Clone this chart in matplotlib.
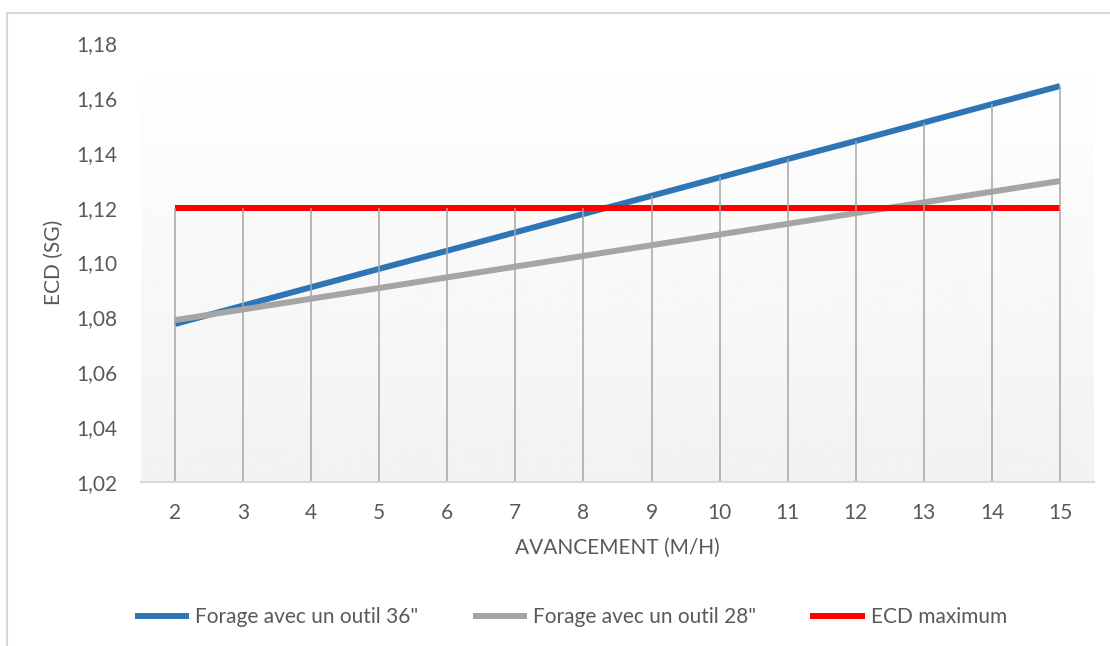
import matplotlib
matplotlib.use("Agg")
import matplotlib.pyplot as plt
import numpy as np
from matplotlib.patches import Rectangle
from matplotlib.ticker import FuncFormatter

# rate of penetration (m/h)
avancement = [2, 3, 4, 5, 6, 7, 8, 9, 10, 11, 12, 13, 14, 15]
# ECD with a 36" bit
ecd_36 = [1.0776, 1.0843, 1.0910, 1.0977, 1.1043, 1.1110, 1.1177,
          1.1243, 1.1310, 1.1377, 1.1443, 1.1510, 1.1577, 1.1643]
# ECD with a 28" bit
ecd_28 = [1.0790, 1.0829, 1.0868, 1.0907, 1.0946, 1.0985, 1.1024,
          1.1063, 1.1102, 1.1141, 1.1180, 1.1219, 1.1258, 1.1297]
ecd_max = [1.12] * len(avancement)

labels = ['Forage avec un outil 36"', 'Forage avec un outil 28"', "ECD maximum"]
colors = ["#2e75b6", "#a5a5a5", "#ff0000"]
text_color = "#595959"

plt.rcParams["font.family"] = ["Lato", "DejaVu Sans"]

fig = plt.figure(figsize=(11.1, 6.46), dpi=100)
ax = fig.add_axes([141 / 1110, 1 - 482 / 646, (1094 - 141) / 1110, (482 - 43) / 646])

# chart border (top and left edges visible)
fig.patches.append(Rectangle((7 / 1110, -0.1), 1.2, 1 - 13 / 646 + 0.1,
                             transform=fig.transFigure, fill=False,
                             edgecolor="#d9d9d9", linewidth=1.5))

x = np.arange(len(avancement))

# vertical gradient in the plot area, white at the top
grad = np.linspace(1.0, 0.949, 256).reshape(-1, 1)
ax.imshow(grad, cmap="gray", vmin=0, vmax=1, aspect="auto", origin="upper",
          extent=(-0.5, len(avancement) - 0.5, 1.02, 1.18), zorder=0)
ax.set_xlim(-0.5, len(avancement) - 0.5)
ax.set_ylim(1.02, 1.18)

series = [ecd_36, ecd_28, ecd_max]
for vals, lab, col in zip(series, labels, colors):
    ax.plot(x, vals, color=col, linewidth=4.3, label=lab, zorder=3,
            solid_capstyle="butt")

# drop lines from the highest series to the axis
top = np.max(np.array(series), axis=0)
ax.vlines(x, 1.02, top, color="#a5a5a5", linewidth=1.1, zorder=4)

for s in ["top", "right", "left"]:
    ax.spines[s].set_visible(False)
ax.spines["bottom"].set_color("#d9d9d9")
ax.spines["bottom"].set_linewidth(1.5)
ax.spines["bottom"].set_zorder(5)

ax.set_xticks(x)
ax.set_xticklabels([str(v) for v in avancement])
ax.set_yticks(np.arange(1.02, 1.181, 0.02))
ax.yaxis.set_major_formatter(FuncFormatter(lambda v, p: f"{v:.2f}".replace(".", ",")))
ax.tick_params(length=0, labelsize=15, labelcolor=text_color)
ax.tick_params(axis="x", pad=15)
ax.tick_params(axis="y", pad=17)

ax.set_xlabel("AVANCEMENT (M/H)", fontsize=15, color=text_color, labelpad=11)
ax.set_ylabel("ECD (SG)", fontsize=15, color=text_color, labelpad=9)

fig.legend(loc="center", bbox_to_anchor=(571 / 1110, 1 - 617 / 646), ncol=3,
           frameon=False, fontsize=15, labelcolor=text_color, handlelength=2.6,
           handletextpad=0.3, columnspacing=2.6)

fig.savefig("out.png", dpi=100)
